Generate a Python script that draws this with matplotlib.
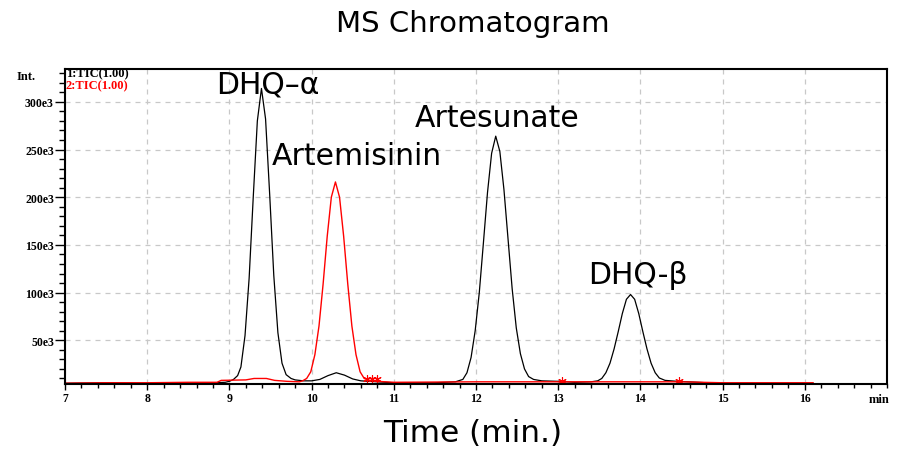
import matplotlib
matplotlib.use("Agg")
import matplotlib.pyplot as plt
from matplotlib.ticker import MultipleLocator, FixedLocator

# trace 1 (black TIC), time in min, intensity in thousands
black_time = [7.0, 7.5, 8.0, 8.5, 8.8, 8.95, 9.0, 9.05, 9.1, 9.14, 9.19, 9.24, 9.29,
              9.34, 9.39, 9.44, 9.49, 9.54, 9.59, 9.64, 9.69, 9.75, 9.8, 9.9, 10.0,
              10.1, 10.2, 10.3, 10.4, 10.5, 10.6, 10.8, 11.0, 11.5, 11.75, 11.84,
              11.89, 11.94, 11.99, 12.04, 12.09, 12.14, 12.19, 12.24, 12.29, 12.34,
              12.39, 12.44, 12.49, 12.54, 12.59, 12.64, 12.7, 12.8, 13.0, 13.2, 13.4,
              13.48, 13.53, 13.58, 13.63, 13.68, 13.73, 13.78, 13.83, 13.88, 13.93,
              13.98, 14.03, 14.08, 14.13, 14.18, 14.23, 14.3, 14.45, 14.7, 14.9,
              15.5, 16.1]
black_int = [5.0, 5.5, 5.0, 5.0, 5.5, 6.0, 7, 9, 13, 22, 55, 115, 200,
             280, 314, 282, 203, 118, 58, 26, 14, 10, 8.5, 7.5, 7.5,
             9, 13, 16, 13.5, 9.5, 7.5, 6.5, 5.5, 5.5, 6.5, 9,
             16, 32, 60, 100, 152, 205, 246, 264, 248, 208,
             156, 104, 63, 36, 20, 12, 9, 7.5, 7, 6, 6.5,
             7.5, 10, 16, 26, 41, 59, 78, 93, 98, 93,
             78, 59, 41, 26, 16, 10.5, 8, 7, 6, 5,
             5, 5]

# trace 2 (red TIC)
red_time = [7.0, 7.5, 8.0, 8.5, 8.85, 8.9, 9.2, 9.3, 9.45, 9.55, 9.7, 9.85, 9.89,
            9.94, 9.99, 10.04, 10.09, 10.14, 10.19, 10.24, 10.29, 10.34, 10.39,
            10.44, 10.49, 10.54, 10.59, 10.64, 10.7, 10.8, 11.0, 12.0, 13.0, 14.0,
            14.5, 15.0, 16.1]
red_int = [5.0, 5.5, 5.5, 6.0, 6.0, 8.0, 8.5, 10, 10, 8, 7, 6.5, 7.5,
           10, 17, 35, 65, 109, 159, 200, 216, 200, 159,
           109, 65, 35, 17, 10, 8, 7, 6, 6.5, 6.5, 6.5,
           6.5, 5.5, 5.5]

# integration marks on the red trace
mark_time = [10.68, 10.74, 10.8, 13.05, 14.47]
mark_int = [9, 9, 9, 7.5, 7.5]

peak_names = ["DHQ\u2013\u03b1", "Artemisinin", "Artesunate", "DHQ-\u03b2"]
y_ticks = [50, 100, 150, 200, 250, 300]
y_labels = ["50e3", "100e3", "150e3", "200e3", "250e3", "300e3"]
x_ticks = [7, 8, 9, 10, 11, 12, 13, 14, 15, 16]

fig = plt.figure(figsize=(8.98, 4.52), dpi=100)
ax = fig.add_axes([65 / 898, 67 / 452, 822 / 898, 315 / 452])

ax.plot(black_time, black_int, color="black", lw=0.9)
ax.plot(red_time, red_int, color="red", lw=1.0)
ax.plot(mark_time, mark_int, ls="none", marker=(6, 2, 0), ms=6, mew=0.8, color="red")

ax.set_xlim(7, 17)
ax.set_ylim(4.2, 334.4)

ax.xaxis.set_major_locator(FixedLocator(x_ticks))
ax.xaxis.set_minor_locator(MultipleLocator(0.2))
ax.yaxis.set_major_locator(FixedLocator(y_ticks))
ax.yaxis.set_minor_locator(MultipleLocator(10))
ax.set_xticklabels([str(t) for t in x_ticks])
ax.set_yticklabels(y_labels)

for lab in ax.get_xticklabels() + ax.get_yticklabels():
    lab.set_fontfamily("Liberation Serif")
    lab.set_fontweight("bold")
    lab.set_fontsize(8.5)

ax.tick_params(axis="y", which="major", direction="out", length=7, width=1, pad=1)
ax.tick_params(axis="y", which="minor", direction="out", length=4.3, width=1)
ax.tick_params(axis="x", which="major", direction="out", length=4, width=1, pad=2)
ax.tick_params(axis="x", which="minor", direction="out", length=3, width=1)

for sp in ax.spines.values():
    sp.set_linewidth(1.5)

ax.grid(True, which="major", ls=(0, (4, 4)), color="#c8c8c8", lw=0.9)
ax.set_axisbelow(True)

# peak labels
lab_kw = dict(fontsize=21.5, color="black", ha="left", va="baseline")
ax.text(8.837, 310, peak_names[0], **lab_kw)
ax.text(9.515, 234.6, peak_names[1], **lab_kw)
ax.text(11.258, 275, peak_names[2], **lab_kw)
ax.text(13.36, 110, peak_names[3], **lab_kw)

# instrument annotations
small = dict(family="Liberation Serif", weight="bold", size=9)
fig.text(66 / 898, 1 - 74 / 452, "1:TIC(1.00)", color="black", va="center", **small)
fig.text(66 / 898, 1 - 86 / 452, "2:TIC(1.00)", color="red", va="center", **small)
fig.text(26 / 898, 1 - 77 / 452, "Int.", ha="center", va="center", **small)
fig.text(879 / 898, 1 - 400 / 452, "min", ha="center", va="center", **small)

fig.text(473 / 898, 1 - 24 / 452, "MS Chromatogram", ha="center", va="center", fontsize=21)
fig.text(472.5 / 898, 1 - 434 / 452, "Time (min.)", ha="center", va="center", fontsize=22.5)

fig.savefig("out.png", dpi=100)
